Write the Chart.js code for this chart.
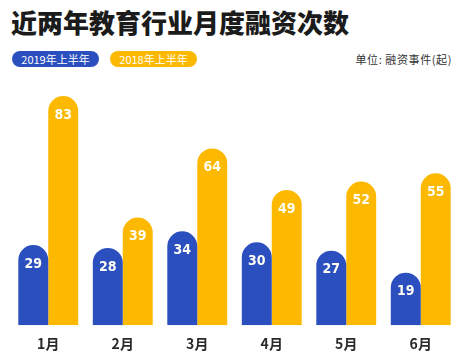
<!DOCTYPE html>
<html>
<head>
<meta charset="utf-8">
<script src="https://cdn.jsdelivr.net/npm/chart.js@4"></script>
<style>
    html, body { margin: 0; padding: 0; background: #fff; }
    body { width: 461px; height: 354px; position: relative; overflow: hidden;
           font-family: "Noto Sans CJK SC", "Noto Sans", sans-serif; }
    .title { position: absolute; left: 11px; top: 3px; font-size: 26px; font-weight: 900;
             color: #1b1b1b; white-space: nowrap; }
    .pill { position: absolute; top: 51px; height: 16px; line-height: 16px; border-radius: 8px;
            color: #fff; font-size: 11px; text-align: center; }
    .unit { position: absolute; right: 9px; top: 51px; line-height: 16px; font-size: 11px;
            letter-spacing: 0.6px; color: #333; }
    .chart-box { position: absolute; left: 0; top: 80px; width: 461px; height: 278px; }
</style>
</head>
<body>
<div class="title">近两年教育行业月度融资次数</div>
<div class="pill" id="pill2019" style="left:12px;width:87px;background:#2b4fbe;"></div>
<div class="pill" id="pill2018" style="left:110px;width:87px;background:#fcb900;"></div>
<div class="unit">单位: 融资事件(起)</div>
<div class="chart-box"><canvas id="monthChart" width="461" height="278"></canvas></div>

<script>
// Monthly financing counts, first half of each year
const months = ['1月', '2月', '3月', '4月', '5月', '6月'];
const series2019 = [29, 28, 34, 30, 27, 19];
const series2018 = [83, 39, 64, 49, 52, 55];
const seriesNames = ['2019年上半年', '2018年上半年'];

const BLUE = '#2b4fbe';
const YELLOW = '#fcb900';

document.getElementById('pill2019').textContent = seriesNames[0];
document.getElementById('pill2018').textContent = seriesNames[1];

// Write each value in white just below the rounded top of its bar
const valueLabels = {
    id: 'valueLabels',
    afterDatasetsDraw(chart) {
        const ctx = chart.ctx;
        ctx.save();
        ctx.fillStyle = '#fdfdf5';
        ctx.font = 'bold 14px "DejaVu Sans Condensed", "Roboto", sans-serif';
        ctx.textAlign = 'center';
        ctx.textBaseline = 'middle';
        chart.data.datasets.forEach((ds, i) => {
            chart.getDatasetMeta(i).data.forEach((bar, j) => {
                ctx.fillText(ds.data[j], bar.x, bar.y + 19);
            });
        });
        ctx.restore();
    }
};

new Chart(document.getElementById('monthChart'), {
    type: 'bar',
    data: {
        labels: months,
        datasets: [
            { label: seriesNames[0], data: series2019, backgroundColor: BLUE },
            { label: seriesNames[1], data: series2018, backgroundColor: YELLOW }
        ]
    },
    options: {
        responsive: false,
        animation: false,
        layout: { padding: { left: 11, right: 3, top: 16, bottom: 4 } },
        datasets: {
            bar: {
                barPercentage: 1,
                categoryPercentage: 0.804,
                borderRadius: { topLeft: 15, topRight: 15, bottomLeft: 0, bottomRight: 0 },
                borderSkipped: false
            }
        },
        plugins: {
            legend: { display: false },
            tooltip: { enabled: false }
        },
        scales: {
            x: {
                grid: { display: false },
                border: { display: false },
                ticks: {
                    color: '#2a2a2a',
                    padding: 2,
                    font: { size: 14, weight: 'bold', family: '"Noto Sans CJK SC", sans-serif' }
                }
            },
            y: {
                display: false,
                min: 0,
                max: 83
            }
        }
    },
    plugins: [valueLabels]
});
</script>
</body>
</html>
